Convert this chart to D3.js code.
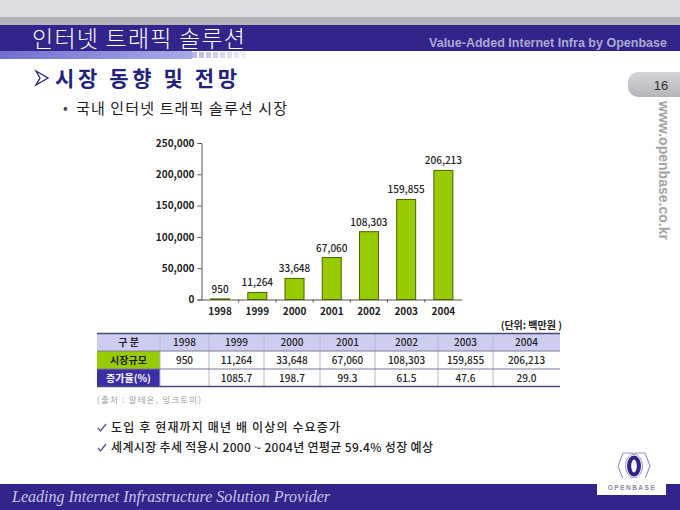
<!DOCTYPE html>
<html>
<head>
<meta charset="utf-8">
<script src="https://cdn.jsdelivr.net/npm/d3@7"></script>
<style>
  html, body { margin: 0; padding: 0; background: #fff; }
  svg { display: block; }
  text { font-family: "Noto Sans CJK KR", "Noto Sans", sans-serif; }
</style>
</head>
<body>
<svg id="slide" width="680" height="510"></svg>
<script>
// chart data
var years = ['1998', '1999', '2000', '2001', '2002', '2003', '2004'];
var marketSize = [950, 11264, 33648, 67060, 108303, 159855, 206213];
var growthRate = ['', '1085.7', '198.7', '99.3', '61.5', '47.6', '29.0'];
var yTicks = [0, 50000, 100000, 150000, 200000, 250000];
var rowLabels = ['구 분', '시장규모', '증가율(%)'];
var notes = ['도입 후 현재까지 매년 배 이상의 수요증가',
             '세계시장 추세 적용시 2000 ~ 2004년 연평균 59.4% 성장 예상'];

var purple = '#31248a';
var fmt = d3.format(',');
var svg = d3.select('#slide');

// ---- slide frame ----
var defs = svg.append('defs');
var g1 = defs.append('linearGradient').attr('id', 'stripe');
g1.append('stop').attr('offset', '0%').attr('stop-color', '#6f6fd0');
g1.append('stop').attr('offset', '100%').attr('stop-color', '#a9a9e6');
var g2 = defs.append('linearGradient').attr('id', 'tab').attr('x2', 0).attr('y2', 1);
g2.append('stop').attr('offset', '0%').attr('stop-color', '#d4d4d8');
g2.append('stop').attr('offset', '100%').attr('stop-color', '#b4b4ba');

svg.append('rect').attr('width', 680).attr('height', 17).attr('fill', '#dcdce2');
svg.append('rect').attr('y', 17).attr('width', 680).attr('height', 8).attr('fill', '#b3b3ba');
svg.append('rect').attr('y', 25).attr('width', 680).attr('height', 26).attr('fill', purple);
svg.append('rect').attr('y', 51).attr('width', 192).attr('height', 8).attr('fill', 'url(#stripe)');
svg.selectAll('rect.dash').data(d3.range(8)).enter().append('rect')
    .attr('class', 'dash')
    .attr('x', function(d) { return 192 + d * 7; })
    .attr('y', 52).attr('width', 5).attr('height', 6)
    .attr('fill', '#b8b8e6').attr('opacity', function(d) { return 1 - d * 0.11; });

svg.append('text').attr('x', 32).attr('y', 47)
    .attr('fill', '#fff').attr('font-size', 23).attr('font-weight', 300)
    .attr('textLength', 213).attr('lengthAdjust', 'spacing')
    .text('인터넷 트래픽 솔루션');
svg.append('text').attr('x', 667).attr('y', 47).attr('text-anchor', 'end')
    .attr('fill', '#aaaad2').attr('font-size', 13).attr('font-weight', 'bold')
    .style('font-family', '"Liberation Sans Narrow", "Liberation Sans", sans-serif')
    .attr('textLength', 238).attr('lengthAdjust', 'spacingAndGlyphs')
    .text('Value-Added Internet Infra by Openbase');

// section heading with arrow
svg.append('path')
    .attr('d', 'M36,71 L48,78 L36,85 L40,78 Z')
    .attr('fill', '#fff').attr('stroke', '#23237a').attr('stroke-width', 1.3);
svg.append('text').attr('x', 55).attr('y', 86)
    .attr('fill', '#23237a').attr('font-size', 21).attr('font-weight', 'bold')
    .attr('textLength', 182).attr('lengthAdjust', 'spacing')
    .text('시장 동향 및 전망');

// page tab + url
svg.append('rect').attr('x', 628).attr('y', 72).attr('width', 70).attr('height', 25)
    .attr('rx', 10).attr('fill', 'url(#tab)');
svg.append('text').attr('x', 661).attr('y', 90).attr('text-anchor', 'middle')
    .attr('fill', '#333').attr('font-size', 13)
    .style('font-family', '"Liberation Sans Narrow", "Liberation Sans", sans-serif')
    .text('16');
svg.append('text').attr('transform', 'translate(659,101) rotate(90)')
    .attr('fill', '#a3a3a3').attr('font-size', 15).attr('font-weight', 'bold')
    .style('font-family', '"Liberation Sans", sans-serif')
    .attr('textLength', 139).attr('lengthAdjust', 'spacingAndGlyphs')
    .text('www.openbase.co.kr');

svg.append('text').attr('x', 63).attr('y', 113)
    .attr('fill', '#444').attr('font-size', 14)
    .text('•');
svg.append('text').attr('x', 76).attr('y', 114)
    .attr('fill', '#222').attr('font-size', 15)
    .attr('textLength', 211).attr('lengthAdjust', 'spacing')
    .text('국내 인터넷 트래픽 솔루션 시장');

// ---- bar chart ----
var x = d3.scaleBand().domain(years).range([201.5, 462]).paddingInner(0.49).paddingOuter(0.245);
var y = d3.scaleLinear().domain([0, 250000]).range([299.5, 143]);
var chart = svg.append('g');

var yAxis = chart.append('g').attr('transform', 'translate(201.5,0)')
    .call(d3.axisLeft(y).tickValues(yTicks).tickFormat(fmt).tickSize(4).tickPadding(3));
var xAxis = chart.append('g').attr('transform', 'translate(0,299.5)')
    .call(d3.axisBottom(x).tickSize(0).tickPadding(8));
[yAxis, xAxis].forEach(function(ax) {
    ax.select('.domain').attr('stroke', '#555');
    ax.selectAll('.tick line').attr('stroke', '#555');
    ax.selectAll('text').attr('fill', '#222').attr('font-size', 10).attr('font-weight', 'bold')
        .style('font-family', '"Noto Sans CJK KR", sans-serif');
});
// small separators between categories
chart.selectAll('line.sep').data(years.slice(0, -1)).enter().append('line')
    .attr('class', 'sep')
    .attr('x1', function(d) { return x(d) + x.bandwidth() + x.step() * x.paddingInner() / 2; })
    .attr('x2', function(d) { return x(d) + x.bandwidth() + x.step() * x.paddingInner() / 2; })
    .attr('y1', 299.5).attr('y2', 302.5).attr('stroke', '#555');

var bars = years.map(function(d, i) { return {year: d, value: marketSize[i]}; });
chart.selectAll('rect.bar').data(bars).enter().append('rect')
    .attr('class', 'bar')
    .attr('x', function(d) { return x(d.year); })
    .attr('y', function(d) { return y(d.value); })
    .attr('width', x.bandwidth())
    .attr('height', function(d) { return y(0) - y(d.value); })
    .attr('fill', '#99cc00').attr('stroke', '#4a6200').attr('stroke-width', 1);
chart.selectAll('text.val').data(bars).enter().append('text')
    .attr('class', 'val')
    .attr('x', function(d) { return x(d.year) + x.bandwidth() / 2; })
    .attr('y', function(d) { return y(d.value) - 6; })
    .attr('text-anchor', 'middle').attr('fill', '#222')
    .attr('font-size', 10).attr('font-weight', 500)
    .text(function(d) { return fmt(d.value); });

// ---- table ----
var colEdges = [97, 160, 209, 264, 320, 375, 438, 493, 560];
var rowEdges = [333.5, 351, 369, 386.5];
var rows = [
    [rowLabels[0]].concat(years),
    [rowLabels[1]].concat(marketSize.map(fmt)),
    [rowLabels[2]].concat(growthRate)
];
var table = svg.append('g');
svg.append('text').attr('x', 562).attr('y', 329).attr('text-anchor', 'end')
    .attr('fill', '#222').attr('font-size', 10).attr('font-weight', 'bold')
    .text('(단위: 백만원 )');

rows.forEach(function(row, r) {
    var cells = table.selectAll('g.r' + r).data(row).enter().append('g');
    cells.append('rect')
        .attr('x', function(d, c) { return colEdges[c]; })
        .attr('y', rowEdges[r])
        .attr('width', function(d, c) { return colEdges[c + 1] - colEdges[c]; })
        .attr('height', rowEdges[r + 1] - rowEdges[r])
        .attr('fill', function(d, c) {
            if (r === 0) return '#cdcdf2';
            if (c === 0) return r === 1 ? '#99cc00' : '#3a2fa6';
            return '#fff';
        });
    cells.append('text')
        .attr('x', function(d, c) { return (colEdges[c] + colEdges[c + 1]) / 2; })
        .attr('y', (rowEdges[r] + rowEdges[r + 1]) / 2 + 4)
        .attr('text-anchor', 'middle').attr('font-size', 10)
        .attr('font-weight', function(d, c) { return c === 0 ? 'bold' : 500; })
        .attr('fill', function(d, c) { return r === 2 && c === 0 ? '#fff' : '#222'; })
        .text(function(d) { return d; });
});
table.selectAll('line.v').data(colEdges.slice(1, -1)).enter().append('line')
    .attr('x1', function(d) { return d; }).attr('x2', function(d) { return d; })
    .attr('y1', rowEdges[0]).attr('y2', rowEdges[3]).attr('stroke', '#b8b8c8');
table.selectAll('line.h').data(rowEdges).enter().append('line')
    .attr('x1', colEdges[0]).attr('x2', colEdges[colEdges.length - 1])
    .attr('y1', function(d) { return d; }).attr('y2', function(d) { return d; })
    .attr('stroke', function(d, i) { return i === 0 || i === 3 ? '#4a4a70' : '#7a7a98'; })
    .attr('stroke-width', function(d, i) { return i === 0 || i === 3 ? 1.5 : 1; });

svg.append('text').attr('x', 97).attr('y', 403)
    .attr('fill', '#a0a0a0').attr('font-size', 8.5)
    .attr('textLength', 104).attr('lengthAdjust', 'spacing')
    .text('(출처 : 말테온, 잉크토미)');

// ---- notes ----
var noteLengths = [229, 322];
svg.selectAll('g.note').data(notes).enter().append('g')
    .attr('class', 'note')
    .attr('transform', function(d, i) { return 'translate(97,' + (432 + i * 20) + ')'; })
    .each(function(d, i) {
        var n = d3.select(this);
        n.append('path').attr('d', 'M1,-4 L3.5,-1 L9,-8')
            .attr('fill', 'none').attr('stroke', '#55558a').attr('stroke-width', 1.3);
        n.append('text').attr('x', 14).attr('fill', '#222')
            .attr('font-size', 12).attr('font-weight', 500)
            .attr('textLength', noteLengths[i]).attr('lengthAdjust', 'spacing')
            .text(d);
    });

// ---- footer ----
svg.append('rect').attr('y', 484).attr('width', 680).attr('height', 26).attr('fill', purple);
svg.append('text').attr('x', 12).attr('y', 502)
    .attr('fill', '#c6c6e6').attr('font-size', 17).attr('font-style', 'italic')
    .style('font-family', '"Liberation Serif", "DejaVu Serif", serif')
    .attr('textLength', 318).attr('lengthAdjust', 'spacingAndGlyphs')
    .text('Leading Internet Infrastructure Solution Provider');

// logo
var logo = svg.append('g').attr('transform', 'translate(634,466)');
svg.append('rect').attr('x', 597).attr('y', 478).attr('width', 69).attr('height', 17).attr('fill', '#fff');
[-6, 6].forEach(function(dx) {
    logo.append('path')
        .attr('d', d3.line()([[dx - 10, 0], [dx - 5, -13], [dx + 5, -13], [dx + 10, 0], [dx + 5, 13], [dx - 5, 13], [dx - 10, 0]]))
        .attr('fill', 'none').attr('stroke', '#9a9ac8').attr('stroke-width', 1.2);
});
logo.append('ellipse').attr('rx', 8.5).attr('ry', 12).attr('fill', '#fff').attr('stroke', '#9a9ac8');
logo.append('ellipse').attr('rx', 7).attr('ry', 10.5).attr('fill', purple);
logo.append('ellipse').attr('rx', 2.8).attr('ry', 6.5).attr('fill', '#fff');
svg.append('text').attr('x', 632).attr('y', 490).attr('text-anchor', 'middle')
    .attr('fill', '#8a8a9a').attr('font-size', 6.5).attr('font-weight', 'bold')
    .attr('letter-spacing', 1.5)
    .style('font-family', '"Liberation Sans", sans-serif')
    .text('OPENBASE');
</script>
</body>
</html>
